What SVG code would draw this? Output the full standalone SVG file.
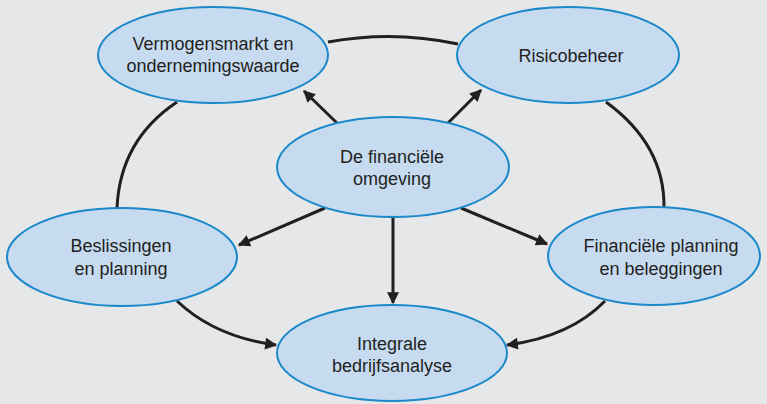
<svg xmlns="http://www.w3.org/2000/svg" width="767" height="404" viewBox="0 0 767 404">
<defs>
<style>
.node ellipse{fill:#c6dbf0;stroke:#1a88c9;stroke-width:2}
.node text{font-family:"Liberation Sans Narrow","Liberation Sans",Arial,sans-serif;font-size:18px;fill:#231f20;text-anchor:middle}
.conn path{fill:none;stroke:#231f20;stroke-width:3}
</style>
<marker id="ah" viewBox="0 0 10 10" refX="9" refY="5" markerWidth="5" markerHeight="4" markerUnits="strokeWidth" orient="auto">
<path d="M0,0 L10,5 L0,10 Z" fill="#231f20"/>
</marker>
</defs>
<rect width="767" height="404" fill="#e6e7e8"/>
<g id="connectors" class="conn">
<path d="M328,42 Q393,30 458,44"/>
<path d="M177,102 Q120,140 117,208"/>
<path d="M606,102 Q665,145 664,208"/>
<path d="M338,124 L304,91" marker-end="url(#ah)"/>
<path d="M448,123 L481,90" marker-end="url(#ah)"/>
<path d="M325,208 L239,245" marker-end="url(#ah)"/>
<path d="M461,208 L547,244" marker-end="url(#ah)"/>
<path d="M393,217 L393,303" marker-end="url(#ah)"/>
<path d="M177,301 Q215,337 276,345" marker-end="url(#ah)"/>
<path d="M605,301 Q570,337 507,345" marker-end="url(#ah)"/>
</g>
<g id="n1" class="node"><ellipse cx="213" cy="55" rx="115" ry="48"/><text x="213" y="50">Vermogensmarkt en</text><text x="213" y="72">ondernemingswaarde</text></g>
<g id="n2" class="node"><ellipse cx="568" cy="55" rx="111" ry="48"/><text x="571" y="62">Risicobeheer</text></g>
<g id="n3" class="node"><ellipse cx="393" cy="167" rx="116" ry="50"/><text x="392" y="163">De financiële</text><text x="392" y="185">omgeving</text></g>
<g id="n4" class="node"><ellipse cx="122" cy="257" rx="115" ry="49"/><text x="121" y="252">Beslissingen</text><text x="121" y="275">en planning</text></g>
<g id="n5" class="node"><ellipse cx="654" cy="256" rx="106" ry="49"/><text x="661" y="252">Financiële planning</text><text x="661" y="275">en beleggingen</text></g>
<g id="n6" class="node"><ellipse cx="392" cy="353" rx="115" ry="48"/><text x="392" y="350">Integrale</text><text x="392" y="372">bedrijfsanalyse</text></g>
</svg>
